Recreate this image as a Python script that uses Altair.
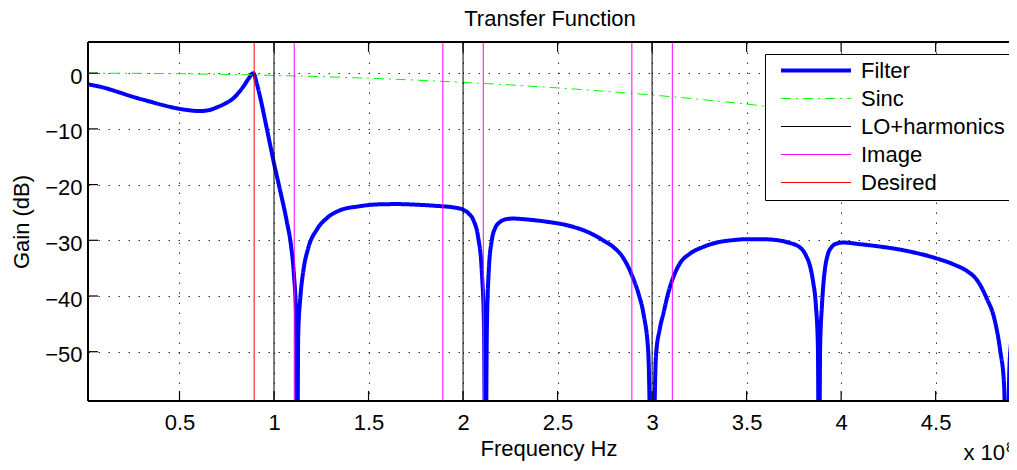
import altair as alt
import pandas as pd

FONT = "Liberation Sans"

# ---- data (frequency in units of 1e8 Hz, gain in dB) ----
filter_freq = [0.016, 0.10, 0.168, 0.25, 0.344, 0.42, 0.485, 0.55, 0.608, 0.66,
               0.70, 0.75, 0.785, 0.815, 0.84, 0.865, 0.89, 0.91, 0.926, 0.961,
               1.0, 1.032, 1.067, 1.09, 1.105, 1.117, 1.122, 1.128, 1.14, 1.155,
               1.18, 1.226, 1.28, 1.35, 1.45, 1.55, 1.65, 1.75, 1.85, 1.95,
               2.0, 2.03, 2.055, 2.08, 2.099, 2.111, 2.118, 2.126, 2.136, 2.152,
               2.17, 2.196, 2.23, 2.266, 2.35, 2.45, 2.55, 2.672, 2.75, 2.795,
               2.85, 2.896, 2.93, 2.955, 2.98, 3.0, 3.02, 3.04, 3.06, 3.085,
               3.107, 3.148, 3.2, 3.27, 3.342, 3.42, 3.5, 3.58, 3.642, 3.72,
               3.783, 3.815, 3.836, 3.852, 3.866, 3.877, 3.883, 3.889, 3.898, 3.907,
               3.915, 3.93, 3.95, 3.975, 4.012, 4.1, 4.2, 4.3, 4.4, 4.5,
               4.6, 4.665, 4.72, 4.771, 4.81, 4.841, 4.862, 4.877, 4.89, 4.905,
               4.93]
filter_gain = [-2.0, -2.6, -3.3, -4.2, -5.1, -5.8, -6.3, -6.65, -6.8, -6.6,
               -6.1, -5.3, -4.5, -3.4, -2.3, -1.0, 0.0, -2.0, -4.2, -9.8,
               -16.2, -21.0, -26.5, -31.0, -36.0, -44.0, -80.0, -47.0, -40.0, -35.5,
               -31.5, -28.1, -26.0, -24.6, -23.9, -23.55, -23.5, -23.6, -23.8, -24.1,
               -24.5, -25.2, -26.4, -29.5, -35.5, -46.0, -80.0, -46.0, -35.5, -30.0,
               -27.8, -26.7, -26.2, -26.1, -26.3, -26.7, -27.3, -28.7, -30.2, -31.2,
               -33.3, -36.5, -39.8, -43.3, -50.3, -80.0, -51.0, -46.0, -43.1, -39.5,
               -37.1, -34.1, -32.4, -31.2, -30.4, -30.0, -29.8, -29.8, -29.9, -30.4,
               -31.3, -32.8, -34.7, -37.5, -41.5, -49.0, -80.0, -49.0, -42.0, -37.5,
               -35.0, -32.5, -31.2, -30.6, -30.4, -30.7, -31.1, -31.6, -32.3, -33.2,
               -34.4, -35.5, -37.2, -40.5, -44.0, -49.7, -56.0, -80.0, -53.0, -46.5,
               -38.9]

sinc_freq = [0.016, 0.25, 0.5, 0.75, 1.0, 1.25, 1.5, 1.75, 2.0, 2.25, 2.5,
             2.75, 3.0, 3.25, 3.5, 3.75, 4.0, 4.25, 4.5, 4.75, 4.93]
sinc_gain = [0.0, -0.02, -0.1, -0.22, -0.4, -0.62, -0.91, -1.24, -1.65, -2.11, -2.64,
             -3.24, -3.92, -4.69, -5.55, -6.53, -7.66, -8.95, -10.45, -12.2, -13.6]

lo_freq = [1.0, 2.0, 3.0]
image_freq = [1.107, 1.893, 2.107, 2.893, 3.107]
desired_freq = [0.895]

x_ticks = [0.5, 1, 1.5, 2, 2.5, 3, 3.5, 4, 4.5]
y_ticks = [0, -10, -20, -30, -40, -50]

series = ["Filter", "Sinc", "LO+harmonics", "Image", "Desired"]
series_colors = ["#0000ff", "#00ff00", "#000000", "#ff00ff", "#ff0000"]
series_widths = [4, 1, 1, 1, 1]
series_dashes = [[1, 0], [10, 5, 2, 5], [1, 0], [1, 0], [1, 0]]

title_text = ["Transfer Function"]
exponent_text = ["x 10"]
exponent_sup = ["8"]

X_DOMAIN = [0.016, 4.888]
Y_DOMAIN = [-58.85, 5.6]
W, H = 921, 359

# ---- tables ----
filter_df = pd.DataFrame({"f": filter_freq, "g": filter_gain, "series": "Filter"})
sinc_df = pd.DataFrame({"f": sinc_freq, "g": sinc_gain, "series": "Sinc"})
lo_df = pd.DataFrame({"f": lo_freq, "series": "LO+harmonics"})
image_df = pd.DataFrame({"f": image_freq, "series": "Image"})
desired_df = pd.DataFrame({"f": desired_freq, "series": "Desired"})
xt_df = pd.DataFrame({"f": x_ticks})
yt_df = pd.DataFrame({"g": y_ticks})

x_axis = alt.Axis(
    values=x_ticks, grid=True, gridColor="#333333", gridDash=[1.5, 8.5], gridWidth=1,
    domain=False, ticks=False, tickSize=0,
    labelFont=FONT, labelFontSize=22, labelColor="black", labelBaseline="alphabetic",
    labelPadding=28, labelExpr="'' + datum.value", labelFlush=False, labelOverlap=False,
    title="Frequency Hz", titleFont=FONT, titleFontSize=22, titleFontWeight="normal",
    titleColor="black", titleBaseline="alphabetic", titleY=54,
)
y_axis = alt.Axis(
    values=y_ticks, grid=True, gridColor="#333333", gridDash=[1.5, 8.5], gridWidth=1,
    domain=False, ticks=False, tickSize=0,
    labelFont=FONT, labelFontSize=22, labelColor="black", labelPadding=6, labelOffset=3,
    labelExpr="datum.value < 0 ? '\u2212' + (-datum.value) : '' + datum.value",
    labelFlush=False, labelOverlap=False,
    title="Gain (dB)", titleFont=FONT, titleFontSize=22, titleFontWeight="normal",
    titleColor="black", titleBaseline="alphabetic", titleX=-60, titleY=179.5, titleAngle=270,
)

x_enc = alt.X("f:Q", scale=alt.Scale(domain=X_DOMAIN, nice=False, zero=False), axis=x_axis)
y_enc = alt.Y("g:Q", scale=alt.Scale(domain=Y_DOMAIN, nice=False, zero=False), axis=y_axis)

color_enc = alt.Color("series:N", scale=alt.Scale(domain=series, range=series_colors),
                      sort=series, title=None)
dash_enc = alt.StrokeDash("series:N", scale=alt.Scale(domain=series, range=series_dashes),
                          sort=series, title=None)
width_enc = alt.StrokeWidth("series:N",
                            scale=alt.Scale(type="ordinal", domain=series, range=series_widths),
                            sort=series, title=None)

filter_line = alt.Chart(filter_df).mark_line(clip=True, interpolate="monotone").encode(
    x=x_enc, y=y_enc, color=color_enc, strokeDash=dash_enc, strokeWidth=width_enc)
sinc_line = alt.Chart(sinc_df).mark_line(clip=True, interpolate="monotone").encode(
    x=x_enc, y=y_enc, color=color_enc, strokeDash=dash_enc, strokeWidth=width_enc)
lo_rules = alt.Chart(lo_df).mark_rule().encode(
    x=x_enc, color=color_enc, strokeDash=dash_enc, strokeWidth=width_enc)
image_rules = alt.Chart(image_df).mark_rule().encode(
    x=x_enc, color=color_enc, strokeDash=dash_enc, strokeWidth=width_enc)
desired_rules = alt.Chart(desired_df).mark_rule().encode(
    x=x_enc, color=color_enc, strokeDash=dash_enc, strokeWidth=width_enc)

# axes box (top, bottom, left; right side lies beyond the visible area)
box_style = dict(color="black", strokeWidth=1.5)
box_top = alt.Chart(xt_df).mark_rule(**box_style).encode(
    x=alt.value(0), x2=alt.value(W), y=alt.value(0))
box_bottom = alt.Chart(xt_df).mark_rule(**box_style).encode(
    x=alt.value(0), x2=alt.value(W), y=alt.value(H))
box_left = alt.Chart(xt_df).mark_rule(**box_style).encode(
    y=alt.value(0), y2=alt.value(H), x=alt.value(0))

# inward tick marks (MATLAB style)
tick_style = dict(color="black", strokeWidth=1.2)
bottom_ticks = alt.Chart(xt_df).mark_rule(**tick_style).encode(
    x=x_enc, y=alt.value(H), y2=alt.value(H - 10))
top_ticks = alt.Chart(xt_df).mark_rule(**tick_style).encode(
    x=x_enc, y=alt.value(0), y2=alt.value(10))
left_ticks = alt.Chart(yt_df).mark_rule(**tick_style).encode(
    y=y_enc, x=alt.value(0), x2=alt.value(10))

title_mark = alt.Chart(pd.DataFrame({"t": title_text})).mark_text(
    font=FONT, fontSize=22, align="center", baseline="alphabetic", color="black").encode(
    text="t:N", x=alt.value(462), y=alt.value(-16))
exp_text = alt.Chart(pd.DataFrame({"t": exponent_text})).mark_text(
    font=FONT, fontSize=22, align="left", baseline="alphabetic", color="black").encode(
    text="t:N", x=alt.value(875.5), y=alt.value(418))
exp_sup = alt.Chart(pd.DataFrame({"t": exponent_sup})).mark_text(
    font=FONT, fontSize=15, align="left", baseline="alphabetic", color="black").encode(
    text="t:N", x=alt.value(918), y=alt.value(410))

chart = alt.layer(
    filter_line, sinc_line, lo_rules, image_rules, desired_rules,
    box_top, box_bottom, box_left,
    bottom_ticks, top_ticks, left_ticks, title_mark, exp_text, exp_sup,
).properties(
    width=W, height=H,
    autosize=alt.AutoSizeParams(type="none"),
    padding={"left": 80, "top": 34, "right": 0, "bottom": 61},
).configure_view(
    strokeWidth=0,
).configure_legend(
    orient="none", legendX=677, legendY=12,
    symbolType="stroke", symbolSize=4900,
    labelFont=FONT, labelFontSize=22, labelColor="black", labelLimit=400,
    clipHeight=21, rowPadding=5, padding=6, symbolOffset=8, labelOffset=8,
    strokeColor="black", fillColor="white",
)

chart.save("out.html", embed_options={"renderer": "svg", "actions": False})
